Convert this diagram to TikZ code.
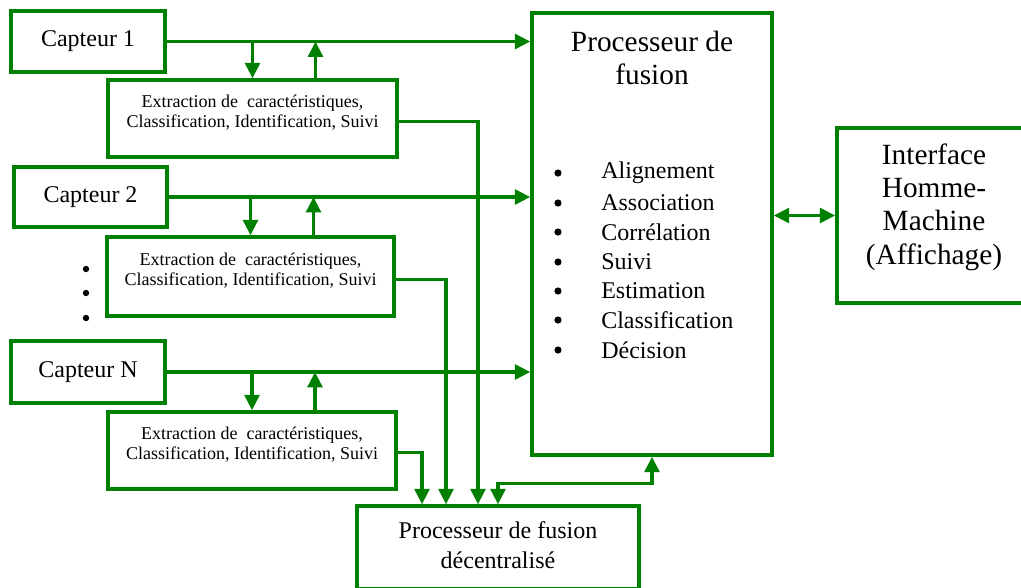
\documentclass[tikz,border=0pt]{standalone}
\usepackage{fontspec}
\setmainfont{Liberation Serif}
\usetikzlibrary{arrows.meta,calc,fit}
\definecolor{fgreen}{RGB}{0,128,0}
\begin{document}
\begin{tikzpicture}[x=0.75pt,y=-0.75pt,
  box/.style={draw=fgreen, line width=2.6pt, rectangle, inner sep=0pt},
  link/.style={draw=fgreen, line width=2.6pt},
  arr/.style={link, -{Triangle[length=11.5pt,width=11pt]}},
  darr/.style={link, {Triangle[length=11.5pt,width=11pt]}-{Triangle[length=11.5pt,width=11pt]}},
  sensortxt/.style={font=\fontsize{18}{21}\selectfont},
  feattxt/.style={align=center, font=\fontsize{13.5}{15}\selectfont},
  bigtxt/.style={align=center, font=\fontsize{22}{25}\selectfont},
  itemtxt/.style={anchor=west, inner sep=0pt, font=\fontsize{18}{21}\selectfont}
]
\useasboundingbox (0,0) rectangle (1021,587);

% sensors
\node[box, fit={(11,11) (165,72)}] (c1) {};
\node[sensortxt] (c1t) at (c1.center) {Capteur 1};
\node[box, fit={(14,167) (167,227)}] (c2) {};
\node[sensortxt] (c2t) at (c2.center) {Capteur 2};
\node[box, fit={(11,341) (165,403)}] (cN) {};
\node[sensortxt] (cNt) at (cN.center) {Capteur N};

% local feature processing
\node[box, fit={(108,80) (397,157)}] (e1) {};
\node[feattxt] (e1t) at ($(e1.center)+(0,-6)$) {Extraction de\ \ caractéristiques,\\Classification, Identification, Suivi};
\node[box, fit={(107,237) (394,316)}] (e2) {};
\node[feattxt] (e2t) at ($(e2.center)+(0,-6)$) {Extraction de\ \ caractéristiques,\\Classification, Identification, Suivi};
\node[box, fit={(108,412) (396,489)}] (eN) {};
\node[feattxt] (eNt) at ($(eN.center)+(0,-6)$) {Extraction de\ \ caractéristiques,\\Classification, Identification, Suivi};

% ellipsis between sensor 2 and sensor N
\fill (86,269) circle (2.4pt);
\fill (86,293) circle (2.4pt);
\fill (86,318) circle (2.4pt);

% central fusion processor
\node[box, fit={(532,13) (772,455)}] (f) {};
\node[bigtxt] (ft) at (652,58) {Processeur de\\fusion};
\foreach \k/\y/\w in {1/173/Alignement, 2/203/Association, 3/232/Corrélation, 4/262/Suivi, 5/291/Estimation, 6/320/Classification, 7/350/Décision}{
  \fill (558,\y) circle (2.7pt);
  \node[itemtxt] (fi\k) at (601,\y) {\w};
}

% human-machine interface
\node[box, fit={(837,128) (1031,303)}] (i) {};
\node[bigtxt] (it) at (934,207) {Interface\\Homme-\\Machine\\(Affichage)};

% decentralised fusion processor
\node[box, fit={(357,506) (639,589)}] (d) {};
\node[align=center, font=\fontsize{18}{22}\selectfont] (dt) at (498,545) {Processeur de fusion\\décentralisé};

% sensor outputs to the fusion processor
\draw[arr] (c1.east) -- (f.west |- c1.east);
\draw[arr] (c2.east) -- (f.west |- c2.east);
\draw[arr] (cN.east) -- (f.west |- cN.east);

% sensor <-> local processing
\foreach \s/\e in {c1/e1, c2/e2, cN/eN}{
  \coordinate (\e u) at ($(\e.north)+(63,0)$);
  \draw[arr] (\s.east -| \e.north) -- (\e.north);
  \draw[arr] (\e u) -- (\e u |- \s.east);
}

% local processing to the decentralised processor
\coordinate (e1o) at ($(e1.east)+(0,3)$);
\coordinate (e2o) at ($(e2.east)+(0,3)$);
\coordinate (eNo) at ($(eN.east)+(0,2)$);
\coordinate (d1) at ($(d.north)+(-20,0)$);
\coordinate (d2) at ($(d.north)+(-52,0)$);
\coordinate (dN) at ($(d.north)+(-76,0)$);
\draw[arr] (e1o) -| (d1);
\draw[arr] (e2o) -| (d2);
\draw[arr] (eNo) -| (dN);

% fusion processor <-> decentralised processor
\draw[darr] (f.south) -- ++(0,27) -| (d.north);

% fusion processor <-> interface
\draw[darr] (f.east |- i.west) -- (i.west);
\end{tikzpicture}
\end{document}
